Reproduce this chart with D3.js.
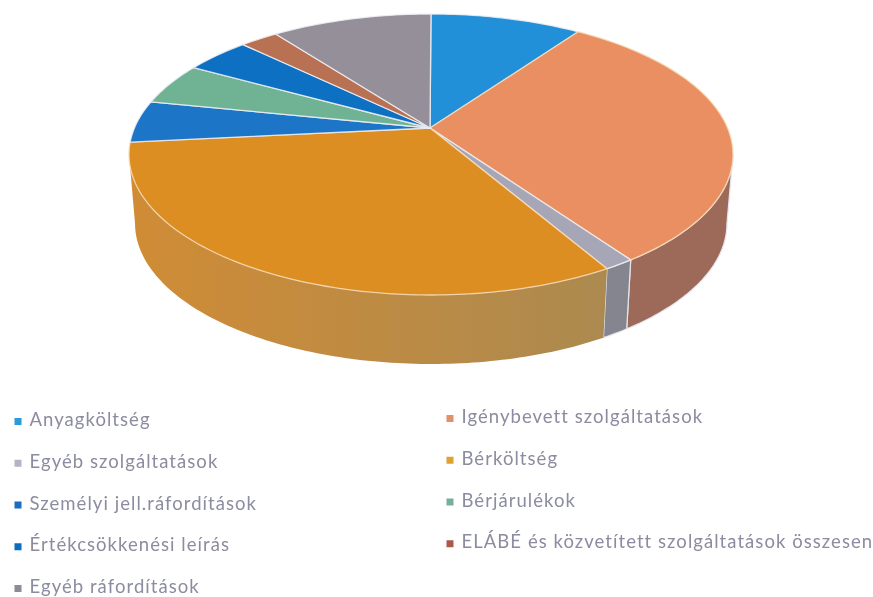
<!DOCTYPE html>
<html>
<head>
<meta charset="utf-8">
<script src="https://cdn.jsdelivr.net/npm/d3@7"></script>
<style>
  html, body { margin: 0; padding: 0; background: #fff; }
  svg { display: block; }
  .legend-label { font-family: "Lato", sans-serif; font-size: 18.5px; fill: #8c8ca0; letter-spacing: 1.05px; }
</style>
</head>
<body>
<div id="chart"></div>
<script>
const categories = [
  "Anyagköltség", "Igénybevett szolgáltatások", "Egyéb szolgáltatások", "Bérköltség",
  "Személyi jell.ráfordítások", "Bérjárulékok", "Értékcsökkenési leírás",
  "ELÁBÉ és közvetített szolgáltatások összesen", "Egyéb ráfordítások"
];
const values = [8.1, 30.4, 1.6, 36.3, 4.7, 4.5, 3.7, 2.1, 8.6];
const topColors = ["#2490d8", "#e98f62", "#a6a6b6", "#dc8e22", "#1a74c6", "#70b294", "#0a70c2", "#b87252", "#948f98"];
const sideColors = ["#1b6ca3", "#9d6b5a", "#85858f", "#b58d42", "#14578f", "#54866f", "#085492", "#8a553d", "#6f6b72"];
const legendColors = ["#2a9ad8", "#e3906a", "#b4b4c4", "#e0a030", "#1a6cc0", "#75b09c", "#0a6cc0", "#a85a4c", "#8c8c94"];

const width = 873, height = 597;

// ellipse of the tilted pie
const cx = 431, cy = 154.5, rx = 302, ry = 140.5;
const depth = 69, bottomShrink = 0.98;
const apex = [430, 128];

const svg = d3.select("#chart").append("svg")
  .attr("width", width)
  .attr("height", height);

const defs = svg.append("defs");
defs.append("filter").attr("id", "scan").append("feGaussianBlur").attr("stdDeviation", 0.6);

const goldSide = defs.append("linearGradient").attr("id", "goldSide");
goldSide.append("stop").attr("offset", "0%").attr("stop-color", "#d08c35");
goldSide.append("stop").attr("offset", "100%").attr("stop-color", "#ac8a50");

const pie = d3.pie().sort(null).value(d => d);
const arcs = pie(values);

function topPoint(t) {
  return [cx + rx * Math.sin(t), cy - ry * Math.cos(t)];
}
function bottomPoint(t) {
  return [cx + rx * bottomShrink * Math.sin(t), cy + depth - ry * Math.cos(t)];
}
function sampleAngles(a, b) {
  const n = Math.max(2, Math.ceil((b - a) / 0.02));
  return d3.range(n + 1).map(i => a + (b - a) * i / n);
}

const line = d3.line();
const g = svg.append("g").attr("filter", "url(#scan)");

// side wall first, only the front half of the rim shows
const frontFrom = Math.PI / 2, frontTo = Math.PI * 3 / 2;
arcs.forEach((d, i) => {
  const a = Math.max(d.startAngle, frontFrom), b = Math.min(d.endAngle, frontTo);
  if (a >= b) return;
  const ts = sampleAngles(a, b);
  const pts = ts.map(topPoint).concat(ts.slice().reverse().map(bottomPoint));
  g.append("path")
    .attr("d", line(pts) + "Z")
    .attr("fill", i === 3 ? "url(#goldSide)" : sideColors[i])
    .attr("stroke", i === 3 ? "none" : "#e6e6ee")
    .attr("stroke-width", 1.2);
});

// top face, the warm slices have a warm rim line
arcs.forEach((d, i) => {
  const pts = [apex].concat(sampleAngles(d.startAngle, d.endAngle).map(topPoint));
  g.append("path")
    .attr("d", line(pts) + "Z")
    .attr("fill", topColors[i])
    .attr("stroke", i === 1 || i === 3 ? "#f6dcb8" : "#eef0f6")
    .attr("stroke-opacity", 0.85)
    .attr("stroke-width", 1.3)
    .attr("stroke-linejoin", "round");
});

// legend, two columns read row by row
const rowY = d3.scaleLinear().domain([0, 4]).range([421.5, 588.5]);
const colX = d3.scaleOrdinal().domain([0, 1]).range([18, 450]);

const legend = svg.append("g").attr("filter", "url(#scan)");
categories.forEach((name, i) => {
  const col = i % 2, row = Math.floor(i / 2);
  const y = rowY(row) - col * 3;
  const item = legend.append("g").attr("transform", `translate(${colX(col)},${y})`);
  item.append("rect")
    .attr("x", -3.5).attr("y", -3.5)
    .attr("width", 7).attr("height", 7)
    .attr("fill", legendColors[i]);
  item.append("text")
    .attr("class", "legend-label")
    .attr("x", 11.5)
    .attr("y", 4.5)
    .text(name);
});
</script>
</body>
</html>
